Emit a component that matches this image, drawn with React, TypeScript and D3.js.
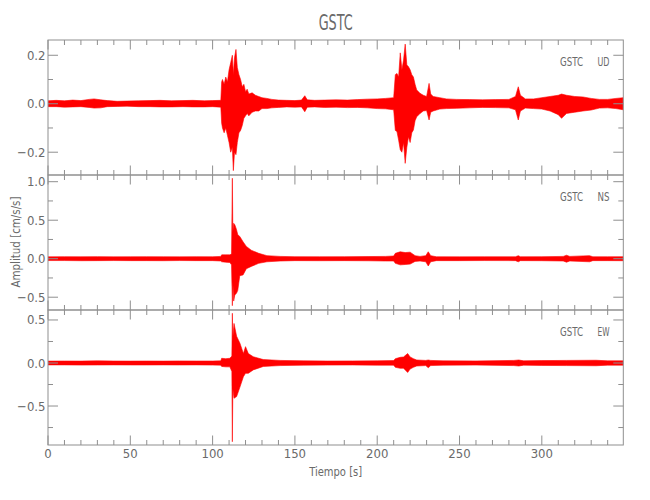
import React from "react";
import * as d3 from "d3";

// ---- data (envelope [time s, max, min]) ----
const udEnvelope: [number, number, number][] = [
  [0, 0.012, -0.012], [5, 0.014, -0.012], [10, 0.012, -0.014], [15, 0.015, -0.013],
  [20, 0.013, -0.012], [25, 0.018, -0.015], [28, 0.02, -0.018], [32, 0.016, -0.017],
  [36, 0.013, -0.012], [42, 0.01, -0.011], [48, 0.011, -0.01], [55, 0.012, -0.012],
  [62, 0.013, -0.012], [68, 0.014, -0.013], [75, 0.012, -0.013], [82, 0.013, -0.012],
  [88, 0.014, -0.013], [95, 0.012, -0.013], [100, 0.013, -0.012], [105, 0.014, -0.014],
  [105.5, 0.09, -0.08], [106, 0.1, -0.1], [107, 0.08, -0.12], [108, 0.11, -0.1],
  [109, 0.09, -0.13], [110, 0.14, -0.16], [111, 0.17, -0.2], [112, 0.2, -0.18],
  [112.6, 0.12, -0.276], [113.3, 0.19, -0.2], [114.2, 0.224, -0.21], [115, 0.15, -0.16],
  [116, 0.12, -0.12], [117, 0.1, -0.11], [118, 0.07, -0.09], [119, 0.08, -0.06],
  [120, 0.05, -0.05], [121, 0.06, -0.04], [122, 0.04, -0.05], [124, 0.045, -0.035],
  [126, 0.035, -0.03], [128, 0.03, -0.03], [130, 0.025, -0.02], [133, 0.022, -0.02],
  [136, 0.018, -0.017], [140, 0.015, -0.015], [145, 0.014, -0.013], [150, 0.013, -0.014],
  [154, 0.015, -0.013], [156, 0.033, -0.033], [157.5, 0.016, -0.014], [162, 0.014, -0.013],
  [168, 0.015, -0.015], [175, 0.016, -0.014], [182, 0.015, -0.016], [188, 0.017, -0.015],
  [194, 0.019, -0.017], [200, 0.02, -0.02], [205, 0.022, -0.021], [210, 0.025, -0.025],
  [211, 0.12, -0.11], [212, 0.125, -0.115], [213, 0.11, -0.15], [214, 0.21, -0.19],
  [215, 0.14, -0.2], [216, 0.18, -0.16], [217, 0.246, -0.246], [218, 0.16, -0.18],
  [219, 0.153, -0.136], [220, 0.14, -0.16], [221, 0.12, -0.12], [222, 0.11, -0.108],
  [223, 0.08, -0.07], [224, 0.057, -0.054], [226, 0.043, -0.04], [228, 0.035, -0.03],
  [230, 0.03, -0.028], [231.5, 0.084, -0.067], [232.5, 0.04, -0.035], [234, 0.03, -0.03],
  [238, 0.025, -0.022], [242, 0.02, -0.02], [248, 0.018, -0.019], [256, 0.017, -0.017],
  [264, 0.016, -0.015], [272, 0.017, -0.016], [280, 0.018, -0.017], [284, 0.03, -0.025],
  [285.7, 0.07, -0.067], [287, 0.035, -0.03], [290, 0.02, -0.018], [295, 0.02, -0.02],
  [300, 0.025, -0.022], [305, 0.03, -0.03], [310, 0.035, -0.045], [312, 0.04, -0.06],
  [315, 0.035, -0.04], [320, 0.03, -0.035], [325, 0.028, -0.03], [330, 0.022, -0.026],
  [335, 0.018, -0.018], [340, 0.018, -0.017], [345, 0.022, -0.02], [349.5, 0.025, -0.025],
];

const nsEnvelope: [number, number, number][] = [
  [0, 0.024, -0.024], [10, 0.026, -0.024], [20, 0.025, -0.026], [30, 0.027, -0.025],
  [40, 0.024, -0.024], [50, 0.025, -0.025], [60, 0.026, -0.025], [70, 0.025, -0.026],
  [80, 0.024, -0.024], [90, 0.026, -0.025], [100, 0.025, -0.025], [105, 0.03, -0.03],
  [105.5, 0.05, -0.04], [108, 0.05, -0.045], [110.5, 0.05, -0.05], [111.5, 0.06, -0.08],
  [112, 1.045, -0.61], [112.3, 0.35, -0.3], [112.8, 0.46, -0.55], [113.5, 0.44, -0.47],
  [114.5, 0.38, -0.45], [115.3, 0.31, -0.41], [116.5, 0.29, -0.22], [118.5, 0.22, -0.21],
  [120.5, 0.16, -0.13], [123.5, 0.11, -0.1], [128, 0.07, -0.06], [133, 0.04, -0.04],
  [141, 0.03, -0.03], [150, 0.026, -0.025], [165, 0.025, -0.026], [180, 0.026, -0.025],
  [195, 0.028, -0.027], [205, 0.03, -0.03], [210, 0.035, -0.03], [211, 0.07, -0.06],
  [214, 0.09, -0.08], [217, 0.08, -0.075], [220, 0.085, -0.07], [223, 0.04, -0.035],
  [226, 0.03, -0.03], [229.5, 0.04, -0.04], [231, 0.09, -0.095], [232.5, 0.04, -0.04],
  [236, 0.025, -0.025], [250, 0.024, -0.025], [265, 0.025, -0.024], [284, 0.025, -0.025],
  [285.7, 0.04, -0.04], [287, 0.025, -0.025], [300, 0.026, -0.026], [313, 0.03, -0.03],
  [315, 0.045, -0.045], [317, 0.03, -0.03], [329, 0.04, -0.04], [331, 0.025, -0.025],
  [340, 0.025, -0.025], [349.5, 0.026, -0.026],
];

const ewEnvelope: [number, number, number][] = [
  [0, 0.022, -0.022], [10, 0.023, -0.022], [20, 0.022, -0.024], [30, 0.025, -0.023],
  [40, 0.023, -0.022], [50, 0.022, -0.023], [60, 0.023, -0.023], [70, 0.022, -0.022],
  [80, 0.024, -0.023], [90, 0.023, -0.022], [100, 0.023, -0.024], [105, 0.025, -0.025],
  [105.5, 0.055, -0.04], [108, 0.05, -0.045], [110.5, 0.055, -0.045], [111.7, 0.08, -0.1],
  [112, 0.578, -0.915], [112.3, 0.3, -0.3], [113, 0.46, -0.41], [114.6, 0.31, -0.39],
  [116.6, 0.23, -0.28], [118.7, 0.11, -0.16], [120, 0.19, -0.12], [121.7, 0.11, -0.12],
  [124.7, 0.073, -0.08], [130.8, 0.04, -0.04], [141, 0.03, -0.03], [155, 0.025, -0.025],
  [170, 0.023, -0.024], [185, 0.024, -0.023], [200, 0.025, -0.025], [210, 0.028, -0.025],
  [211, 0.05, -0.05], [214, 0.066, -0.062], [216, 0.07, -0.06], [218.5, 0.11, -0.11],
  [220, 0.07, -0.07], [222, 0.05, -0.05], [224, 0.035, -0.035], [229.5, 0.03, -0.03],
  [231, 0.035, -0.055], [232.5, 0.03, -0.03], [240, 0.025, -0.025], [260, 0.024, -0.024],
  [283, 0.03, -0.03], [286, 0.035, -0.035], [289, 0.025, -0.025], [300, 0.028, -0.028],
  [315, 0.03, -0.03], [333, 0.032, -0.032], [340, 0.025, -0.025], [349.5, 0.025, -0.025],
];

const panelNames = ["UD", "NS", "EW"];
const stationName = "GSTC";
const yDomains: [number, number][] = [[-0.294, 0.263], [-0.666, 1.087], [-0.953, 0.616]];
const yMajorTicks = [[-0.2, 0, 0.2], [-0.5, 0, 0.5, 1.0], [-0.5, 0, 0.5]];
const yMinorStep = [0.1, 0.25, 0.25];
const xMajorTicks = [0, 50, 100, 150, 200, 250, 300];
const xMinorStep = 10;
const xDomain: [number, number] = [0, 349.5];

// ---- layout ----
const W = 650, H = 500;
const PL = 48, PR = 623.3;
const PANEL_TOPS = [40, 175, 310];
const PANEL_H = 135;
const AXIS = "#8f8f8f";
const TEXT = "#6a6a6a";
const FONT = "'Liberation Sans Narrow', 'DejaVu Sans Condensed', 'Liberation Sans', sans-serif";

const fmt = (v: number) => (v < 0 ? "\u2212" : "") + Math.abs(v).toFixed(1);

function minorTicks(domain: [number, number], step: number) {
  const out: number[] = [];
  const start = Math.ceil(domain[0] / step - 1e-9);
  for (let i = start; i * step <= domain[1] + 1e-9; i++) out.push(+(i * step).toFixed(6));
  return out;
}

export default function App() {
  const x = d3.scaleLinear().domain(xDomain).range([PL, PR]);
  const envelopes = [udEnvelope, nsEnvelope, ewEnvelope];
  const xMinor = minorTicks(xDomain, xMinorStep);

  return (
    <svg width={W} height={H} style={{ position: "absolute", left: 0, top: 0, background: "#fff" }} fontFamily={FONT}>
      <rect x={0} y={0} width={W} height={H} fill="#fff" />
      <text x={(PL + PR) / 2} y={30} textAnchor="middle" fontSize={21} fill={TEXT} textLength={34} lengthAdjust="spacingAndGlyphs">
        {stationName}
      </text>
      {envelopes.map((env, i) => {
        const top = PANEL_TOPS[i];
        const y = d3.scaleLinear().domain(yDomains[i]).range([top + PANEL_H, top]);
        const area = d3.area<[number, number, number]>()
          .x((d) => x(d[0]))
          .y0((d) => y(d[2]))
          .y1((d) => y(d[1]))
          .curve(d3.curveLinear);
        const yMinor = minorTicks(yDomains[i], yMinorStep[i]);
        const isMajorY = (v: number) => yMajorTicks[i].some((m) => Math.abs(m - v) < 1e-6);
        const isMajorX = (v: number) => xMajorTicks.includes(v);
        const bottom = top + PANEL_H;
        return (
          <g key={i}>
            <clipPath id={`clip${i}`}>
              <rect x={PL} y={top} width={PR - PL} height={PANEL_H} />
            </clipPath>
            <path d={area(env) || ""} fill="#ff0000" stroke="#ff0000" strokeWidth={0.6} clipPath={`url(#clip${i})`} />
            {/* frame */}
            <rect x={PL} y={top} width={PR - PL} height={PANEL_H} fill="none" stroke={AXIS} strokeWidth={1} />
            {/* x ticks top and bottom */}
            {xMinor.map((v) => {
              const len = isMajorX(v) ? 9.5 : 5;
              return (
                <g key={"xt" + v}>
                  <line x1={x(v)} x2={x(v)} y1={top} y2={top + len} stroke={AXIS} />
                  <line x1={x(v)} x2={x(v)} y1={bottom} y2={bottom - len} stroke={AXIS} />
                </g>
              );
            })}
            {/* y ticks left and right */}
            {yMinor.map((v) => {
              const len = isMajorY(v) ? 10 : 5;
              return (
                <g key={"yt" + v}>
                  <line x1={PL} x2={PL + len} y1={y(v)} y2={y(v)} stroke={AXIS} />
                  <line x1={PR} x2={PR - len} y1={y(v)} y2={y(v)} stroke={AXIS} />
                </g>
              );
            })}
            {yMajorTicks[i].map((v) => (
              <text key={"yl" + v} x={45.5} y={y(v) + 4.5} textAnchor="end" fontSize={13} fill={TEXT}>
                {fmt(v)}
              </text>
            ))}
            <text x={560} y={top + 25.7} fontSize={13} fill={TEXT} textLength={23} lengthAdjust="spacingAndGlyphs">
              {stationName}
            </text>
            <text x={597.5} y={top + 25.7} fontSize={13} fill={TEXT} textLength={12} lengthAdjust="spacingAndGlyphs">
              {panelNames[i]}
            </text>
            {i === 2 &&
              xMajorTicks.map((v) => (
                <text key={"xl" + v} x={x(v)} y={458} textAnchor="middle" fontSize={13} fill={TEXT}>
                  {v}
                </text>
              ))}
          </g>
        );
      })}
      <text x={(PL + PR) / 2} y={476} textAnchor="middle" fontSize={13} fill={TEXT} textLength={53} lengthAdjust="spacingAndGlyphs">
        Tiempo [s]
      </text>
      <text
        transform={`translate(20,242) rotate(-90)`}
        textAnchor="middle"
        fontSize={13}
        fill={TEXT}
        textLength={91}
        lengthAdjust="spacingAndGlyphs"
      >
        Amplitud [cm/s/s]
      </text>
    </svg>
  );
}
